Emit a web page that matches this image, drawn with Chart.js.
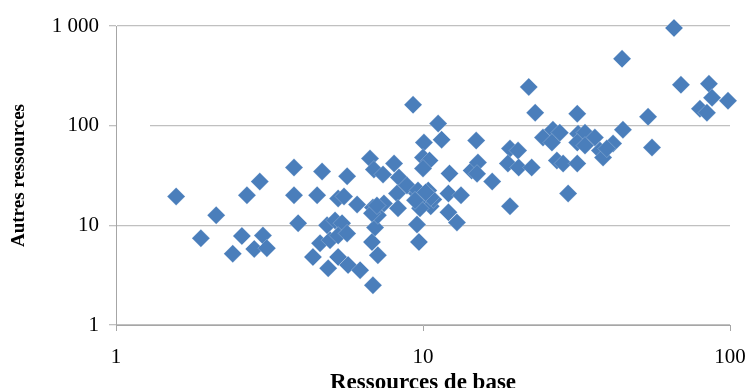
<!DOCTYPE html>
<html>
<head>
<meta charset="utf-8">
<script src="https://cdn.jsdelivr.net/npm/chart.js@4.4.1/dist/chart.umd.min.js"></script>
<style>
  html, body { margin: 0; padding: 0; background: #fff; }
</style>
</head>
<body>
<canvas id="scatter" width="754" height="388"></canvas>
<script>
// valeurs (échelles log)
const baseRes = [
  1.57, 1.89, 2.12, 2.40, 2.57, 2.67, 2.82, 2.94, 3.01, 3.10,
  3.80, 3.80, 3.92, 4.38, 4.62, 4.69, 4.52, 4.98, 4.87, 5.17,
  5.29, 5.53, 5.45, 5.66, 5.29, 5.66, 5.29, 4.91, 5.70, 6.24,
  6.10, 6.87, 6.82, 7.13, 6.98, 6.72, 6.92, 7.41, 8.05, 8.35,
  6.87, 7.46, 7.13, 8.23, 8.29, 8.87, 9.28, 9.56, 10.07, 10.6,
  9.78, 10.8, 9.56, 9.70, 10.07, 11.2, 11.5, 10.0, 10.5, 10.0,
  12.2, 9.63, 10.4, 12.1, 13.3, 12.1, 12.9, 14.9, 14.4, 15.1,
  15.0, 16.8, 19.2, 20.4, 18.9, 20.5, 22.6, 19.2, 22.1, 23.2,
  24.6, 26.5, 27.9, 26.3, 27.3, 28.6, 29.7, 31.8, 32.0, 33.7,
  36.3, 31.8, 33.7, 31.8, 37.7, 38.6, 41.6, 44.8, 39.7, 44.5,
  54.1, 55.7, 65.7, 69.2, 85.4, 87.4, 98.5, 79.8, 84.1, 6.82,
  9.42, 7.08, 10.6, 10.2
];
const otherRes = [
  19.5, 7.4, 12.6, 5.2, 7.8, 20, 5.8, 27.5, 7.9, 5.9,
  38, 20, 10.5, 4.8, 6.6, 34.7, 20, 7.1, 10, 11.2,
  18.6, 19.5, 10.5, 31, 7.9, 8.3, 4.8, 3.7, 4.0, 3.55,
  16.2, 2.5, 6.8, 5.0, 9.5, 46.8, 36.3, 32.4, 41.7, 30.2,
  15.1, 16.6, 12.6, 20.9, 14.8, 25.1, 162, 20.9, 17.8, 15.5,
  14.8, 18.2, 10.2, 6.8, 67.6, 105, 72.4, 47.9, 44.7, 37.2,
  33.1, 22.4, 22.4, 20.9, 20, 13.5, 10.7, 70.8, 35.5, 42.7,
  33, 27.5, 58.9, 56.2, 41.7, 38, 38, 15.5, 245, 135,
  75.9, 91.2, 85.1, 67.6, 44.7, 41.7, 20.9, 132, 83.2, 85.1,
  75.9, 67.6, 63.1, 41.7, 56.2, 47.9, 66.1, 91.2, 58.9, 468,
  123, 60.3, 955, 257, 263, 191, 178, 148, 135, 13.2,
  17.8, 15.8, 19.1, 21.4
];

const xTicks = [1, 10, 100];
const yTicks = [1, 10, 100, 1000];
const yTickLabels = ["1", "10", "100", "1 000"];

const serif = "'Liberation Serif', 'Times New Roman', serif";
const gridGray = "#C0C0C0";
const axisGray = "#A6A6A6";

const points = baseRes.map((x, i) => ({ x: x, y: otherRes[i] }));

// petit blanc sur la ligne de 100 près de l'axe, comme sur l'original
const gapPlugin = {
  id: "gap",
  beforeDatasetsDraw(chart) {
    const { ctx, chartArea, scales } = chart;
    const y100 = scales.y.getPixelForValue(100);
    ctx.save();
    ctx.fillStyle = "#fff";
    ctx.fillRect(chartArea.left + 1, y100 - 2, 33, 4);
    ctx.restore();
  }
};

const ctx = document.getElementById("scatter").getContext("2d");
const chart = new Chart(ctx, {
  type: "scatter",
  data: {
    datasets: [
      {
        data: points,
        pointStyle: "rectRot",
        pointRadius: 9,
        pointBackgroundColor: "#4A7EBB",
        pointBorderColor: "rgba(255,255,255,0.35)",
        pointBorderWidth: 0.6,
        clip: false
      }
    ]
  },
  options: {
    responsive: false,
    animation: false,
    devicePixelRatio: 1,
    layout: { padding: { top: 26, right: 24, left: 0, bottom: 0 } },
    plugins: {
      legend: { display: false },
      tooltip: { enabled: false }
    },
    scales: {
      x: {
        type: "logarithmic",
        min: 1,
        max: 100,
        afterBuildTicks: s => { s.ticks = xTicks.map(v => ({ value: v })); },
        afterFit: s => { s.height = 63; },
        grid: { drawOnChartArea: false, drawTicks: true, tickLength: 6, color: axisGray },
        border: { display: true, color: axisGray },
        ticks: {
          color: "#000",
          // padding 0 : sinon Chart.js réserve trop de marge à droite
          font: { family: serif, size: 21, lineHeight: 2.55 },
          padding: 0,
          maxRotation: 0,
          autoSkip: false,
          callback: v => String(v)
        },
        title: {
          display: true,
          text: "Ressources de base",
          color: "#000",
          font: { family: serif, size: 23, weight: "bold", lineHeight: 0.4 },
          padding: 0
        }
      },
      y: {
        type: "logarithmic",
        min: 1,
        max: 1000,
        afterBuildTicks: s => { s.ticks = yTicks.map(v => ({ value: v })); },
        afterFit: s => { s.width = 116; },
        grid: { color: gridGray, tickLength: 7, drawTicks: true, lineWidth: 1.3 },
        border: { display: true, color: axisGray },
        ticks: {
          color: "#000",
          font: { family: serif, size: 21 },
          padding: 10,
          autoSkip: false,
          callback: v => yTickLabels[yTicks.indexOf(v)]
        },
        title: {
          display: true,
          text: "Autres ressources",
          color: "#000",
          font: { family: serif, size: 19, weight: "bold" },
          padding: { top: 8, bottom: 0 }
        }
      }
    }
  },
  plugins: [gapPlugin]
});
</script>
</body>
</html>
